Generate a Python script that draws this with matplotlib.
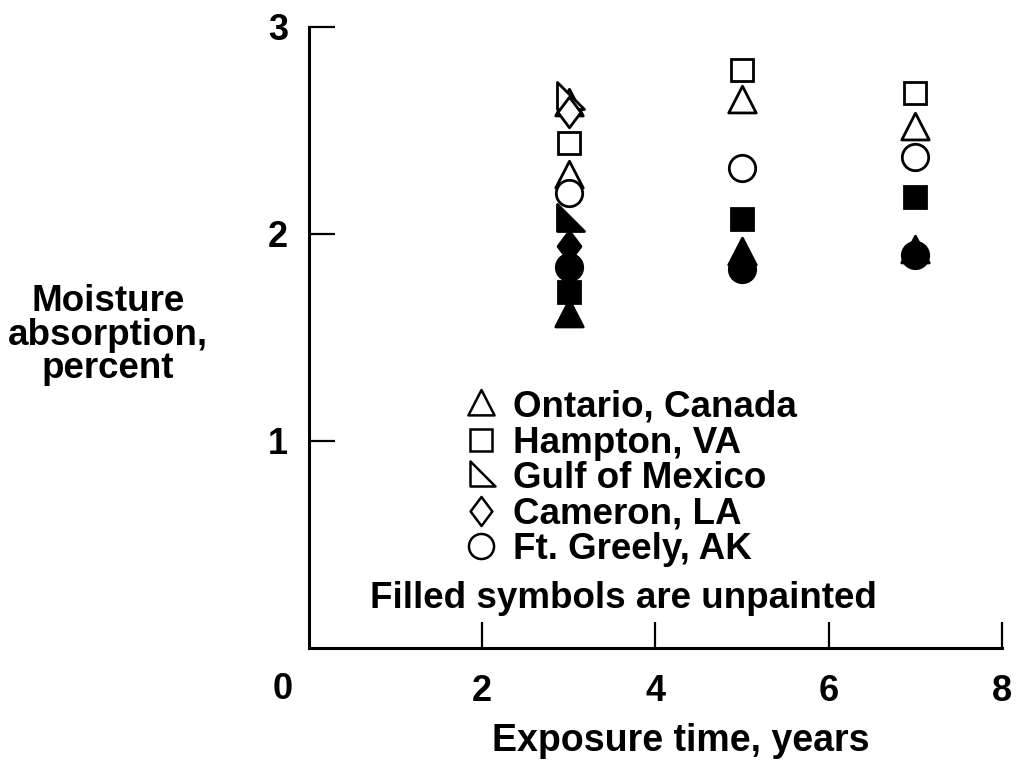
import matplotlib.pyplot as plt
from matplotlib.path import Path

plt.rcParams['font.family'] = ['Liberation Sans', 'DejaVu Sans']
plt.rcParams['font.weight'] = 'bold'

# exposure years and moisture absorption (percent), painted = open, unpainted = filled
ontario_x = [3, 3, 5, 7]
ontario_open = [2.63, 2.28, 2.64, 2.51]
ontario_fx = [3, 5, 7]
ontario_filled = [1.61, 1.91, 1.92]

hampton_x = [3, 5, 7]
hampton_open = [2.44, 2.79, 2.68]
hampton_filled = [1.72, 2.07, 2.18]

gulf_x = [3]
gulf_open = [2.66]
gulf_filled = [2.07]

cameron_x = [3]
cameron_open = [2.59]
cameron_filled = [1.94]

greely_x = [3, 5, 7]
greely_open = [2.20, 2.32, 2.37]
greely_filled = [1.84, 1.83, 1.90]

legend_labels = ['Ontario, Canada', 'Hampton, VA', 'Gulf of Mexico', 'Cameron, LA', 'Ft. Greely, AK']

# marker shapes
tri = Path([(0, 1), (-0.9, -0.75), (0.9, -0.75), (0, 1)], closed=True)
rtri = Path([(-0.8, 1), (-0.8, -0.8), (1, -0.8), (-0.8, 1)], closed=True)
diam = Path([(0, 1), (0.75, 0), (0, -1), (-0.75, 0), (0, 1)], closed=True)

styles = {
    'ontario': (tri, 22),
    'hampton': ('s', 16),
    'gulf': (rtri, 21),
    'cameron': (diam, 22),
    'greely': ('o', 19),
}

fig = plt.figure(figsize=(10.21, 7.62), dpi=100)
ax = fig.add_axes([0.3026, 0.1496, 0.6788, 0.815])

def pts(x, y, key, filled):
    m, s = styles[key]
    fc = 'black' if filled else 'white'
    ax.plot(x, y, linestyle='none', marker=m, markersize=s, markerfacecolor=fc,
            markeredgecolor='black', markeredgewidth=2, clip_on=False)

pts(ontario_x, ontario_open, 'ontario', False)
pts(gulf_x, gulf_open, 'gulf', False)
pts(cameron_x, cameron_open, 'cameron', False)
pts(hampton_x, hampton_open, 'hampton', False)
pts(greely_x, greely_open, 'greely', False)

pts(gulf_x, gulf_filled, 'gulf', True)
pts(cameron_x, cameron_filled, 'cameron', True)
pts(ontario_fx, ontario_filled, 'ontario', True)
pts(greely_x, greely_filled, 'greely', True)
pts(hampton_x, hampton_filled, 'hampton', True)

ax.set_xlim(0, 8)
ax.set_ylim(0, 3)
ax.set_xticks([2, 4, 6, 8])
ax.set_yticks([1, 2, 3])
ax.tick_params(direction='in', length=19, width=1.6, labelsize=26)
ax.tick_params(axis='x', pad=19)
ax.tick_params(axis='y', pad=15)
for sp in ['top', 'right']:
    ax.spines[sp].set_visible(False)
for sp in ['left', 'bottom']:
    ax.spines[sp].set_linewidth(2.2)
ax.text(-0.3, -0.0676, '0', fontsize=26, ha='center', va='center',
        transform=ax.get_xaxis_transform())

fig.text(0.667, 0.028, 'Exposure time, years', fontsize=27, ha='center', va='center')
fig.text(0.106, 0.56, 'Moisture\nabsorption,\npercent', fontsize=26.5,
         ha='center', va='center', linespacing=0.95)

# legend drawn by hand so the row spacing matches the original
px2ax_x = lambda px: (px - 309) / 693
px2ax_y = lambda py: (648 - py) / 621
row0, step = 417, 35.6
for i, key in enumerate(['ontario', 'hampton', 'gulf', 'cameron', 'greely']):
    m, s = styles[key]
    base = row0 + i * step
    ax.plot([px2ax_x(481)], [px2ax_y(base - 13)], linestyle='none', marker=m,
            markersize=s * 0.95, markerfacecolor='white', markeredgecolor='black',
            markeredgewidth=1.8, transform=ax.transAxes, clip_on=False)
    ax.text(px2ax_x(513), px2ax_y(base), legend_labels[i], fontsize=26.5,
            ha='left', va='baseline', transform=ax.transAxes)
ax.text(px2ax_x(623), px2ax_y(608), 'Filled symbols are unpainted', fontsize=26.5,
        ha='center', va='baseline', transform=ax.transAxes)

fig.savefig('out.png', dpi=100)
